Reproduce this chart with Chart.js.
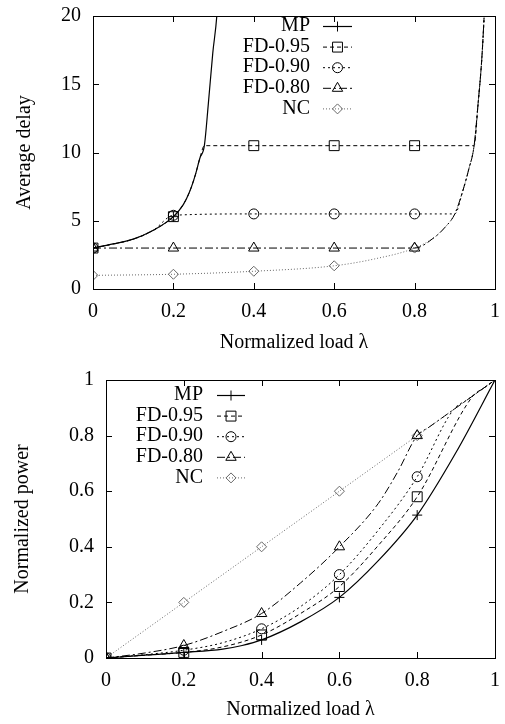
<!DOCTYPE html>
<html>
<head>
<meta charset="utf-8">
<script src="https://cdn.jsdelivr.net/npm/chart.js@4/dist/chart.umd.min.js"></script>
<style>
    html, body { margin: 0; padding: 0; background: #fff; }
    #wrap { position: relative; width: 505px; height: 724px; }
    canvas { position: absolute; left: 0; }
    #graficoAtraso { top: 0; }
    #graficoPotencia { top: 360px; }
</style>
</head>
<body>
<div id="wrap">
    <canvas id="graficoAtraso" width="505" height="360"></canvas>
    <canvas id="graficoPotencia" width="505" height="364"></canvas>
</div>
<script>
const seriesNames = ['MP', 'FD-0.95', 'FD-0.90', 'FD-0.80', 'NC']

// average delay (top panel)
const delayMpX = [0, 0.05, 0.1, 0.15, 0.2, 0.225, 0.24, 0.255, 0.266, 0.277, 0.287, 0.298, 0.308, 0.312]
const delayMpY = [3, 3.3, 3.65, 4.3, 5.3, 6.2, 7.1, 8.4, 9.6, 10.5, 13.6, 17.3, 20, 22]
const delayFd95X = [0, 0.05, 0.1, 0.15, 0.2, 0.225, 0.24, 0.255, 0.266, 0.277, 0.4, 0.6, 0.8, 0.948, 0.958, 0.967, 0.973, 0.976]
const delayFd95Y = [3, 3.3, 3.65, 4.3, 5.3, 6.2, 7.1, 8.4, 9.6, 10.5, 10.5, 10.5, 10.5, 10.5, 13.6, 16.8, 20, 22]
const delayFd90X = [0, 0.05, 0.1, 0.15, 0.2, 0.4, 0.6, 0.8, 0.9, 0.92, 0.935, 0.948, 0.958, 0.967, 0.973, 0.976]
const delayFd90Y = [3, 3.3, 3.65, 4.3, 5.4, 5.5, 5.5, 5.5, 5.5, 7.2, 8.8, 10.5, 13.6, 16.8, 20, 22]
const delayFd80X = [0, 0.2, 0.4, 0.6, 0.8, 0.85, 0.875, 0.9, 0.92, 0.935, 0.948, 0.958, 0.967, 0.973, 0.976]
const delayFd80Y = [3, 3, 3, 3, 3, 3.8, 4.5, 5.5, 7.2, 8.8, 10.5, 13.6, 16.8, 20, 22]
const delayNcX = [0, 0.2, 0.4, 0.6, 0.7, 0.8, 0.85, 0.875, 0.9, 0.92, 0.935, 0.948, 0.958, 0.967, 0.973, 0.976]
const delayNcY = [1, 1.08, 1.3, 1.7, 2.2, 3, 3.8, 4.5, 5.5, 7.2, 8.8, 10.5, 13.6, 16.8, 20, 22]

// normalized power (bottom panel)
const powerMpX = [0, 0.1, 0.2, 0.3, 0.35, 0.4, 0.5, 0.6, 0.7, 0.8, 0.9, 1]
const powerMpY = [0, 0.01, 0.02, 0.032, 0.045, 0.065, 0.13, 0.218, 0.35, 0.514, 0.74, 1]
const powerFd95X = [0, 0.1, 0.2, 0.3, 0.4, 0.5, 0.6, 0.7, 0.8, 0.944, 0.97, 1]
const powerFd95Y = [0, 0.01, 0.02, 0.04, 0.083, 0.16, 0.257, 0.405, 0.58, 0.944, 0.97, 1]
const powerFd90X = [0, 0.1, 0.2, 0.3, 0.4, 0.5, 0.6, 0.7, 0.8, 0.893, 0.93, 0.965, 1]
const powerFd90Y = [0, 0.012, 0.028, 0.055, 0.105, 0.185, 0.3, 0.46, 0.652, 0.893, 0.93, 0.965, 1]
const powerFd80X = [0, 0.1, 0.2, 0.3, 0.4, 0.5, 0.6, 0.7, 0.75, 0.8, 0.83, 0.87, 0.92, 0.96, 1]
const powerFd80Y = [0, 0.018, 0.045, 0.095, 0.16, 0.27, 0.4, 0.556, 0.67, 0.8, 0.83, 0.87, 0.92, 0.96, 1]
const powerNcX = [0, 0.2, 0.4, 0.6, 0.8, 1]
const powerNcY = [0, 0.2, 0.4, 0.6, 0.8, 1]

const loadTicks = [0, 0.2, 0.4, 0.6, 0.8, 1]
const delayTicks = [0, 5, 10, 15, 20]
const powerTicks = [0, 0.2, 0.4, 0.6, 0.8, 1]

const estilos = [
    { color: '#000', dash: [], point: 'cross', size: 5, width: 1.2 },
    { color: '#000', dash: [4, 3], point: 'rect', size: 7, width: 1 },
    { color: '#000', dash: [2, 3], point: 'circle', size: 5, width: 1 },
    { color: '#000', dash: [8, 3, 2, 3], point: 'triangle', size: 6, width: 1 },
    { color: '#666', dash: [1, 2], point: 'rectRot', size: 5, width: 1 }
]

Chart.defaults.font.family = "'Liberation Serif', 'Times New Roman', serif"
Chart.defaults.font.size = 20
Chart.defaults.color = '#000'

function $(fn) { document.readyState === 'loading' ? document.addEventListener('DOMContentLoaded', fn) : fn() }

$(function () {
    graficoAtraso()
    graficoPotencia()
})

// markers only on the 0.2 grid, not at x = 1
function marcaX(x) {
    return x < 0.999 && Math.abs(x * 5 - Math.round(x * 5)) < 1e-6
}

function serie(i, xs, ys) {
    var s = estilos[i]
    return {
        label: seriesNames[i],
        data: xs.map(function (x, k) { return { x: x, y: ys[k] } }),
        borderColor: s.color,
        borderWidth: s.width,
        borderDash: s.dash,
        pointStyle: s.point,
        pointBorderColor: s.color,
        pointBackgroundColor: 'rgba(0,0,0,0)',
        pointBorderWidth: 1,
        pointRadius: function (ctx) { return ctx.raw && marcaX(ctx.raw.x) ? s.size : 0 },
        pointHoverRadius: 0,
        cubicInterpolationMode: 'monotone',
        fill: false
    }
}

function fmt(v) { return String(Math.round(v * 10) / 10) }

// gnuplot style frame: box + inward ticks + key in the plot
const moldura = {
    id: 'moldura',
    afterDatasetsDraw: function (chart) {
        var ctx = chart.ctx, a = chart.chartArea
        var xs = chart.scales.x, ys = chart.scales.y
        ctx.save()
        ctx.setLineDash([])
        ctx.strokeStyle = '#000'
        ctx.lineWidth = 1
        ctx.beginPath()
        xs.ticks.forEach(function (t) {
            var px = Math.round(xs.getPixelForValue(t.value)) + 0.5
            ctx.moveTo(px, a.bottom); ctx.lineTo(px, a.bottom - 6)
            ctx.moveTo(px, a.top); ctx.lineTo(px, a.top + 6)
        })
        ys.ticks.forEach(function (t) {
            var py = Math.round(ys.getPixelForValue(t.value)) + 0.5
            ctx.moveTo(a.left, py); ctx.lineTo(a.left + 6, py)
            ctx.moveTo(a.right, py); ctx.lineTo(a.right - 6, py)
        })
        ctx.stroke()
        ctx.strokeRect(Math.round(a.left) + 0.5, Math.round(a.top) + 0.5, Math.round(a.right - a.left), Math.round(a.bottom - a.top))
        ctx.restore()
    },
    afterDraw: function (chart, args, opts) {
        var ctx = chart.ctx
        ctx.save()
        chart.data.datasets.forEach(function (ds, i) {
            var y = opts.top + i * opts.step
            ctx.font = "20px 'Liberation Serif', serif"
            ctx.fillStyle = '#000'
            ctx.textAlign = 'right'
            ctx.textBaseline = 'middle'
            ctx.fillText(ds.label, opts.textRight, y)
            ctx.strokeStyle = ds.borderColor
            ctx.lineWidth = ds.borderWidth
            ctx.setLineDash(ds.borderDash)
            ctx.beginPath()
            ctx.moveTo(opts.lineFrom, y + 0.5)
            ctx.lineTo(opts.lineTo, y + 0.5)
            ctx.stroke()
            ctx.setLineDash([])
            ctx.lineWidth = 1
            ctx.fillStyle = 'rgba(0,0,0,0)'
            Chart.helpers.drawPoint(ctx, {
                pointStyle: ds.pointStyle,
                radius: estilos[i].size,
                rotation: 0,
                borderWidth: 1
            }, (opts.lineFrom + opts.lineTo) / 2, y + 0.5)
        })
        ctx.restore()
    }
}

function opcoes(cfg) {
    return {
        responsive: false,
        animation: false,
        layout: { padding: { top: cfg.padTop, right: 10, left: 0, bottom: 0 } },
        plugins: {
            legend: { display: false },
            tooltip: { enabled: false },
            moldura: cfg.key
        },
        scales: {
            x: {
                type: 'linear',
                min: 0,
                max: 1,
                afterBuildTicks: function (s) { s.ticks = loadTicks.map(function (v) { return { value: v } }) },
                afterFit: function (s) { s.height = cfg.xHeight },
                ticks: { padding: 3, callback: fmt, maxRotation: 0 },
                grid: { display: false },
                border: { display: false },
                title: { display: true, text: 'Normalized load λ', padding: { top: 0, bottom: cfg.xTitlePad } }
            },
            y: {
                min: cfg.yTicks[0],
                max: cfg.yTicks[cfg.yTicks.length - 1],
                afterBuildTicks: function (s) { s.ticks = cfg.yTicks.map(function (v) { return { value: v } }) },
                afterFit: function (s) { s.width = cfg.yWidth },
                ticks: { padding: 4, callback: fmt },
                grid: { display: false },
                border: { display: false },
                title: { display: true, text: cfg.yTitle, padding: { top: cfg.yTitlePad, bottom: 0 } }
            }
        }
    }
}

function graficoAtraso() {
    const ctx = document.getElementById('graficoAtraso').getContext('2d')
    new Chart(ctx, {
        type: 'line',
        data: {
            datasets: [
                serie(0, delayMpX, delayMpY),
                serie(1, delayFd95X, delayFd95Y),
                serie(2, delayFd90X, delayFd90Y),
                serie(3, delayFd80X, delayFd80Y),
                serie(4, delayNcX, delayNcY)
            ]
        },
        options: opcoes({
            padTop: 12, xHeight: 71, yWidth: 93, xTitlePad: 5, yTitlePad: 13,
            yTicks: delayTicks, yTitle: 'Average delay',
            key: { textRight: 310, lineFrom: 323, lineTo: 352, top: 26, step: 20.6 }
        }),
        plugins: [moldura]
    })
}

function graficoPotencia() {
    const ctx = document.getElementById('graficoPotencia').getContext('2d')
    new Chart(ctx, {
        type: 'line',
        data: {
            datasets: [
                serie(0, powerMpX, powerMpY),
                serie(1, powerFd95X, powerFd95Y),
                serie(2, powerFd90X, powerFd90Y),
                serie(3, powerFd80X, powerFd80Y),
                serie(4, powerNcX, powerNcY)
            ]
        },
        options: opcoes({
            padTop: 20, xHeight: 66, yWidth: 106, xTitlePad: 2, yTitlePad: 11,
            yTicks: powerTicks, yTitle: 'Normalized power',
            key: { textRight: 203, lineFrom: 217, lineTo: 245, top: 35, step: 20.6 }
        }),
        plugins: [moldura]
    })
}
</script>
</body>
</html>
